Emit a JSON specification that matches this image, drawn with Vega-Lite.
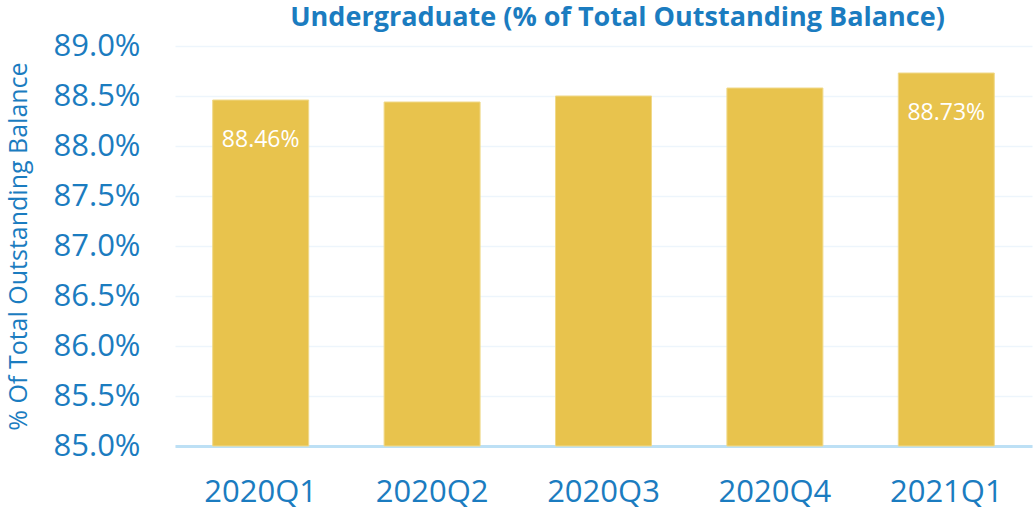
{
  "$schema": "https://vega.github.io/schema/vega-lite/v6.json",
  "width": 857,
  "height": 400,
  "autosize": {"type": "none"},
  "padding": {"left": 175, "top": 46, "right": 2, "bottom": 67},
  "background": "white",
  "view": {"stroke": null},
  "title": {
    "text": "Undergraduate (% of Total Outstanding Balance)",
    "font": "Open Sans",
    "fontSize": 27,
    "fontWeight": "bold",
    "color": "#1b7cc0",
    "anchor": "middle",
    "frame": "group",
    "dx": 14,
    "offset": -2
  },
  "data": {
    "values": [
      {"quarter": "2020Q1", "value": 88.46, "label": "88.46%"},
      {"quarter": "2020Q2", "value": 88.44, "label": ""},
      {"quarter": "2020Q3", "value": 88.50, "label": ""},
      {"quarter": "2020Q4", "value": 88.58, "label": ""},
      {"quarter": "2021Q1", "value": 88.73, "label": "88.73%"}
    ]
  },
  "encoding": {
    "x": {
      "field": "quarter",
      "type": "nominal",
      "sort": null,
      "scale": {"paddingInner": 0.44, "paddingOuter": 0.22},
      "axis": {
        "title": null,
        "labelAngle": 0,
        "labelFont": "Open Sans",
        "labelFontSize": 31,
        "labelColor": "#1b7cc0",
        "labelPadding": 31,
        "ticks": false,
        "domainColor": "#bde0f5",
        "domainWidth": 3,
        "grid": false
      }
    },
    "y": {
      "field": "value",
      "type": "quantitative",
      "scale": {"domain": [85, 89], "zero": false, "nice": false, "clamp": true},
      "axis": {
        "title": "% Of Total Outstanding Balance",
        "titleFont": "Open Sans",
        "titleFontSize": 25,
        "titleFontWeight": "normal",
        "titleColor": "#1b7cc0",
        "titleX": -157,
        "titleY": 200,
        "titleBaseline": "middle",
        "titleAngle": -90,
        "values": [85, 85.5, 86, 86.5, 87, 87.5, 88, 88.5, 89],
        "labelExpr": "format(datum.value, '.1f') + '%'",
        "labelFont": "Open Sans",
        "labelFontSize": 31,
        "labelColor": "#1b7cc0",
        "labelPadding": 35,
        "ticks": false,
        "domain": false,
        "gridColor": "#edf5fc",
        "gridWidth": 1.5
      }
    }
  },
  "layer": [
    {
      "mark": {"type": "bar", "color": "#e8c34d", "stroke": "#f0d98a", "strokeWidth": 1}
    },
    {
      "mark": {"type": "text", "color": "white", "font": "Open Sans", "fontSize": 23, "baseline": "middle", "dy": 40},
      "encoding": {"text": {"field": "label"}}
    }
  ]
}
